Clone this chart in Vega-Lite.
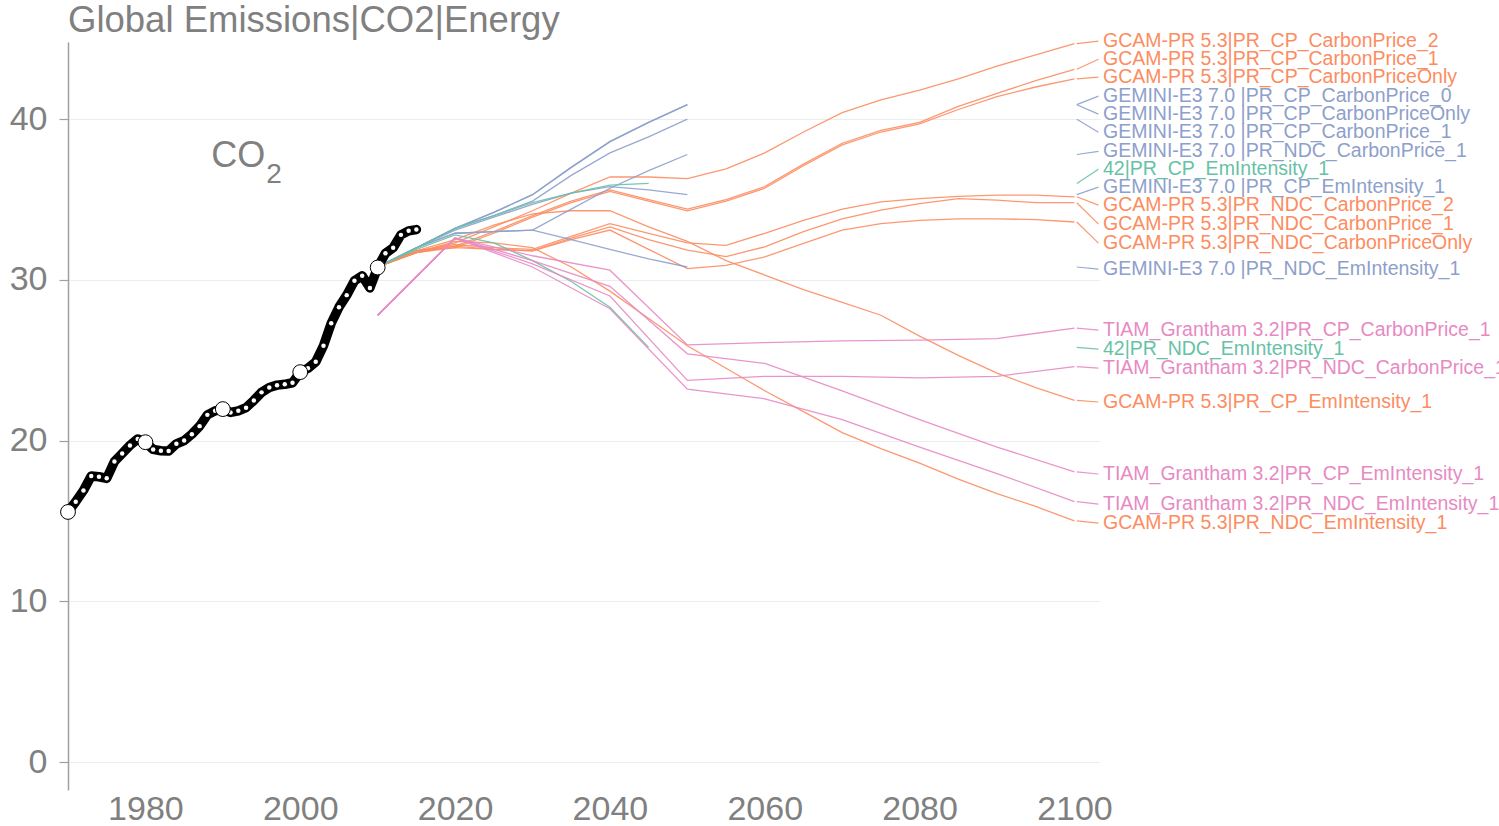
{
  "$schema": "https://vega.github.io/schema/vega-lite/v6.json",
  "autosize": "none",
  "width": 1032,
  "height": 748,
  "padding": {"left": 68, "top": 42, "right": 399, "bottom": 36},
  "background": "white",
  "title": {"text": "Global Emissions|CO2|Energy", "anchor": "start", "frame": "group", "fontSize": 36.5, "font": "Liberation Sans", "fontWeight": "normal", "color": "#808080", "offset": -8},
  "config": {
    "view": {"stroke": null},
    "axis": {"labelFont": "Liberation Sans", "labelFontSize": 34, "labelColor": "#808080", "title": null}
  },
  "datasets": {
    "history": [
      {"year": 1970, "value": 15.56}, {"year": 1971, "value": 16.2}, {"year": 1972, "value": 16.9}, {"year": 1973, "value": 17.8}, {"year": 1974, "value": 17.75},
      {"year": 1975, "value": 17.65}, {"year": 1976, "value": 18.7}, {"year": 1977, "value": 19.2}, {"year": 1978, "value": 19.7}, {"year": 1979, "value": 20.1},
      {"year": 1980, "value": 19.9}, {"year": 1981, "value": 19.45}, {"year": 1982, "value": 19.37}, {"year": 1983, "value": 19.35}, {"year": 1984, "value": 19.8},
      {"year": 1985, "value": 20.0}, {"year": 1986, "value": 20.4}, {"year": 1987, "value": 20.9}, {"year": 1988, "value": 21.6}, {"year": 1989, "value": 21.85},
      {"year": 1990, "value": 21.96}, {"year": 1991, "value": 21.75}, {"year": 1992, "value": 21.85}, {"year": 1993, "value": 22.05}, {"year": 1994, "value": 22.5},
      {"year": 1995, "value": 23.0}, {"year": 1996, "value": 23.3}, {"year": 1997, "value": 23.45}, {"year": 1998, "value": 23.5}, {"year": 1999, "value": 23.6},
      {"year": 2000, "value": 24.26}, {"year": 2001, "value": 24.5}, {"year": 2002, "value": 24.9}, {"year": 2003, "value": 25.9}, {"year": 2004, "value": 27.3},
      {"year": 2005, "value": 28.3}, {"year": 2006, "value": 29.05}, {"year": 2007, "value": 29.95}, {"year": 2008, "value": 30.25}, {"year": 2009, "value": 29.5},
      {"year": 2010, "value": 30.77}, {"year": 2011, "value": 31.65}, {"year": 2012, "value": 32.0}, {"year": 2013, "value": 32.8}, {"year": 2014, "value": 33.05},
      {"year": 2015, "value": 33.13}
    ],
    "scenarios": [
      {"model": "GCAM-PR 5.3", "scenario": "PR_CP_CarbonPrice_2", "year": 2010, "value": 30.8},
      {"model": "GCAM-PR 5.3", "scenario": "PR_CP_CarbonPrice_2", "year": 2015, "value": 31.7},
      {"model": "GCAM-PR 5.3", "scenario": "PR_CP_CarbonPrice_2", "year": 2020, "value": 32.3},
      {"model": "GCAM-PR 5.3", "scenario": "PR_CP_CarbonPrice_2", "year": 2025, "value": 33.3},
      {"model": "GCAM-PR 5.3", "scenario": "PR_CP_CarbonPrice_2", "year": 2030, "value": 34.3},
      {"model": "GCAM-PR 5.3", "scenario": "PR_CP_CarbonPrice_2", "year": 2035, "value": 35.4},
      {"model": "GCAM-PR 5.3", "scenario": "PR_CP_CarbonPrice_2", "year": 2040, "value": 36.4},
      {"model": "GCAM-PR 5.3", "scenario": "PR_CP_CarbonPrice_2", "year": 2045, "value": 36.4},
      {"model": "GCAM-PR 5.3", "scenario": "PR_CP_CarbonPrice_2", "year": 2050, "value": 36.3},
      {"model": "GCAM-PR 5.3", "scenario": "PR_CP_CarbonPrice_2", "year": 2055, "value": 36.9},
      {"model": "GCAM-PR 5.3", "scenario": "PR_CP_CarbonPrice_2", "year": 2060, "value": 37.9},
      {"model": "GCAM-PR 5.3", "scenario": "PR_CP_CarbonPrice_2", "year": 2065, "value": 39.2},
      {"model": "GCAM-PR 5.3", "scenario": "PR_CP_CarbonPrice_2", "year": 2070, "value": 40.4},
      {"model": "GCAM-PR 5.3", "scenario": "PR_CP_CarbonPrice_2", "year": 2075, "value": 41.2},
      {"model": "GCAM-PR 5.3", "scenario": "PR_CP_CarbonPrice_2", "year": 2080, "value": 41.8},
      {"model": "GCAM-PR 5.3", "scenario": "PR_CP_CarbonPrice_2", "year": 2085, "value": 42.5},
      {"model": "GCAM-PR 5.3", "scenario": "PR_CP_CarbonPrice_2", "year": 2090, "value": 43.3},
      {"model": "GCAM-PR 5.3", "scenario": "PR_CP_CarbonPrice_2", "year": 2095, "value": 44.0},
      {"model": "GCAM-PR 5.3", "scenario": "PR_CP_CarbonPrice_2", "year": 2100, "value": 44.7},

      {"model": "GCAM-PR 5.3", "scenario": "PR_CP_CarbonPrice_1", "year": 2010, "value": 30.8},
      {"model": "GCAM-PR 5.3", "scenario": "PR_CP_CarbonPrice_1", "year": 2015, "value": 31.7},
      {"model": "GCAM-PR 5.3", "scenario": "PR_CP_CarbonPrice_1", "year": 2020, "value": 32.1},
      {"model": "GCAM-PR 5.3", "scenario": "PR_CP_CarbonPrice_1", "year": 2025, "value": 33.0},
      {"model": "GCAM-PR 5.3", "scenario": "PR_CP_CarbonPrice_1", "year": 2030, "value": 34.0},
      {"model": "GCAM-PR 5.3", "scenario": "PR_CP_CarbonPrice_1", "year": 2035, "value": 34.9},
      {"model": "GCAM-PR 5.3", "scenario": "PR_CP_CarbonPrice_1", "year": 2040, "value": 35.6},
      {"model": "GCAM-PR 5.3", "scenario": "PR_CP_CarbonPrice_1", "year": 2045, "value": 35.0},
      {"model": "GCAM-PR 5.3", "scenario": "PR_CP_CarbonPrice_1", "year": 2050, "value": 34.4},
      {"model": "GCAM-PR 5.3", "scenario": "PR_CP_CarbonPrice_1", "year": 2055, "value": 35.0},
      {"model": "GCAM-PR 5.3", "scenario": "PR_CP_CarbonPrice_1", "year": 2060, "value": 35.8},
      {"model": "GCAM-PR 5.3", "scenario": "PR_CP_CarbonPrice_1", "year": 2065, "value": 37.2},
      {"model": "GCAM-PR 5.3", "scenario": "PR_CP_CarbonPrice_1", "year": 2070, "value": 38.5},
      {"model": "GCAM-PR 5.3", "scenario": "PR_CP_CarbonPrice_1", "year": 2075, "value": 39.3},
      {"model": "GCAM-PR 5.3", "scenario": "PR_CP_CarbonPrice_1", "year": 2080, "value": 39.8},
      {"model": "GCAM-PR 5.3", "scenario": "PR_CP_CarbonPrice_1", "year": 2085, "value": 40.8},
      {"model": "GCAM-PR 5.3", "scenario": "PR_CP_CarbonPrice_1", "year": 2090, "value": 41.6},
      {"model": "GCAM-PR 5.3", "scenario": "PR_CP_CarbonPrice_1", "year": 2095, "value": 42.4},
      {"model": "GCAM-PR 5.3", "scenario": "PR_CP_CarbonPrice_1", "year": 2100, "value": 43.1},

      {"model": "GCAM-PR 5.3", "scenario": "PR_CP_CarbonPriceOnly", "year": 2010, "value": 30.8},
      {"model": "GCAM-PR 5.3", "scenario": "PR_CP_CarbonPriceOnly", "year": 2015, "value": 31.7},
      {"model": "GCAM-PR 5.3", "scenario": "PR_CP_CarbonPriceOnly", "year": 2020, "value": 32.0},
      {"model": "GCAM-PR 5.3", "scenario": "PR_CP_CarbonPriceOnly", "year": 2025, "value": 32.9},
      {"model": "GCAM-PR 5.3", "scenario": "PR_CP_CarbonPriceOnly", "year": 2030, "value": 33.9},
      {"model": "GCAM-PR 5.3", "scenario": "PR_CP_CarbonPriceOnly", "year": 2035, "value": 34.8},
      {"model": "GCAM-PR 5.3", "scenario": "PR_CP_CarbonPriceOnly", "year": 2040, "value": 35.5},
      {"model": "GCAM-PR 5.3", "scenario": "PR_CP_CarbonPriceOnly", "year": 2045, "value": 34.9},
      {"model": "GCAM-PR 5.3", "scenario": "PR_CP_CarbonPriceOnly", "year": 2050, "value": 34.3},
      {"model": "GCAM-PR 5.3", "scenario": "PR_CP_CarbonPriceOnly", "year": 2055, "value": 34.9},
      {"model": "GCAM-PR 5.3", "scenario": "PR_CP_CarbonPriceOnly", "year": 2060, "value": 35.7},
      {"model": "GCAM-PR 5.3", "scenario": "PR_CP_CarbonPriceOnly", "year": 2065, "value": 37.1},
      {"model": "GCAM-PR 5.3", "scenario": "PR_CP_CarbonPriceOnly", "year": 2070, "value": 38.4},
      {"model": "GCAM-PR 5.3", "scenario": "PR_CP_CarbonPriceOnly", "year": 2075, "value": 39.2},
      {"model": "GCAM-PR 5.3", "scenario": "PR_CP_CarbonPriceOnly", "year": 2080, "value": 39.7},
      {"model": "GCAM-PR 5.3", "scenario": "PR_CP_CarbonPriceOnly", "year": 2085, "value": 40.6},
      {"model": "GCAM-PR 5.3", "scenario": "PR_CP_CarbonPriceOnly", "year": 2090, "value": 41.4},
      {"model": "GCAM-PR 5.3", "scenario": "PR_CP_CarbonPriceOnly", "year": 2095, "value": 42.0},
      {"model": "GCAM-PR 5.3", "scenario": "PR_CP_CarbonPriceOnly", "year": 2100, "value": 42.5},

      {"model": "GCAM-PR 5.3", "scenario": "PR_CP_EmIntensity_1", "year": 2010, "value": 30.8},
      {"model": "GCAM-PR 5.3", "scenario": "PR_CP_EmIntensity_1", "year": 2015, "value": 31.8},
      {"model": "GCAM-PR 5.3", "scenario": "PR_CP_EmIntensity_1", "year": 2020, "value": 32.5},
      {"model": "GCAM-PR 5.3", "scenario": "PR_CP_EmIntensity_1", "year": 2025, "value": 33.4},
      {"model": "GCAM-PR 5.3", "scenario": "PR_CP_EmIntensity_1", "year": 2030, "value": 34.1},
      {"model": "GCAM-PR 5.3", "scenario": "PR_CP_EmIntensity_1", "year": 2035, "value": 34.3},
      {"model": "GCAM-PR 5.3", "scenario": "PR_CP_EmIntensity_1", "year": 2040, "value": 34.3},
      {"model": "GCAM-PR 5.3", "scenario": "PR_CP_EmIntensity_1", "year": 2045, "value": 33.3},
      {"model": "GCAM-PR 5.3", "scenario": "PR_CP_EmIntensity_1", "year": 2050, "value": 32.4},
      {"model": "GCAM-PR 5.3", "scenario": "PR_CP_EmIntensity_1", "year": 2055, "value": 31.2},
      {"model": "GCAM-PR 5.3", "scenario": "PR_CP_EmIntensity_1", "year": 2060, "value": 30.3},
      {"model": "GCAM-PR 5.3", "scenario": "PR_CP_EmIntensity_1", "year": 2065, "value": 29.4},
      {"model": "GCAM-PR 5.3", "scenario": "PR_CP_EmIntensity_1", "year": 2070, "value": 28.6},
      {"model": "GCAM-PR 5.3", "scenario": "PR_CP_EmIntensity_1", "year": 2075, "value": 27.8},
      {"model": "GCAM-PR 5.3", "scenario": "PR_CP_EmIntensity_1", "year": 2080, "value": 26.5},
      {"model": "GCAM-PR 5.3", "scenario": "PR_CP_EmIntensity_1", "year": 2085, "value": 25.3},
      {"model": "GCAM-PR 5.3", "scenario": "PR_CP_EmIntensity_1", "year": 2090, "value": 24.2},
      {"model": "GCAM-PR 5.3", "scenario": "PR_CP_EmIntensity_1", "year": 2095, "value": 23.3},
      {"model": "GCAM-PR 5.3", "scenario": "PR_CP_EmIntensity_1", "year": 2100, "value": 22.5},

      {"model": "GCAM-PR 5.3", "scenario": "PR_NDC_CarbonPrice_2", "year": 2010, "value": 30.8},
      {"model": "GCAM-PR 5.3", "scenario": "PR_NDC_CarbonPrice_2", "year": 2015, "value": 31.8},
      {"model": "GCAM-PR 5.3", "scenario": "PR_NDC_CarbonPrice_2", "year": 2020, "value": 32.2},
      {"model": "GCAM-PR 5.3", "scenario": "PR_NDC_CarbonPrice_2", "year": 2025, "value": 32.0},
      {"model": "GCAM-PR 5.3", "scenario": "PR_NDC_CarbonPrice_2", "year": 2030, "value": 31.9},
      {"model": "GCAM-PR 5.3", "scenario": "PR_NDC_CarbonPrice_2", "year": 2035, "value": 32.7},
      {"model": "GCAM-PR 5.3", "scenario": "PR_NDC_CarbonPrice_2", "year": 2040, "value": 33.5},
      {"model": "GCAM-PR 5.3", "scenario": "PR_NDC_CarbonPrice_2", "year": 2045, "value": 32.9},
      {"model": "GCAM-PR 5.3", "scenario": "PR_NDC_CarbonPrice_2", "year": 2050, "value": 32.3},
      {"model": "GCAM-PR 5.3", "scenario": "PR_NDC_CarbonPrice_2", "year": 2055, "value": 32.15},
      {"model": "GCAM-PR 5.3", "scenario": "PR_NDC_CarbonPrice_2", "year": 2060, "value": 32.9},
      {"model": "GCAM-PR 5.3", "scenario": "PR_NDC_CarbonPrice_2", "year": 2065, "value": 33.7},
      {"model": "GCAM-PR 5.3", "scenario": "PR_NDC_CarbonPrice_2", "year": 2070, "value": 34.4},
      {"model": "GCAM-PR 5.3", "scenario": "PR_NDC_CarbonPrice_2", "year": 2075, "value": 34.85},
      {"model": "GCAM-PR 5.3", "scenario": "PR_NDC_CarbonPrice_2", "year": 2080, "value": 35.05},
      {"model": "GCAM-PR 5.3", "scenario": "PR_NDC_CarbonPrice_2", "year": 2085, "value": 35.2},
      {"model": "GCAM-PR 5.3", "scenario": "PR_NDC_CarbonPrice_2", "year": 2090, "value": 35.27},
      {"model": "GCAM-PR 5.3", "scenario": "PR_NDC_CarbonPrice_2", "year": 2095, "value": 35.27},
      {"model": "GCAM-PR 5.3", "scenario": "PR_NDC_CarbonPrice_2", "year": 2100, "value": 35.17},

      {"model": "GCAM-PR 5.3", "scenario": "PR_NDC_CarbonPrice_1", "year": 2010, "value": 30.8},
      {"model": "GCAM-PR 5.3", "scenario": "PR_NDC_CarbonPrice_1", "year": 2015, "value": 31.8},
      {"model": "GCAM-PR 5.3", "scenario": "PR_NDC_CarbonPrice_1", "year": 2020, "value": 32.1},
      {"model": "GCAM-PR 5.3", "scenario": "PR_NDC_CarbonPrice_1", "year": 2025, "value": 31.9},
      {"model": "GCAM-PR 5.3", "scenario": "PR_NDC_CarbonPrice_1", "year": 2030, "value": 31.8},
      {"model": "GCAM-PR 5.3", "scenario": "PR_NDC_CarbonPrice_1", "year": 2035, "value": 32.6},
      {"model": "GCAM-PR 5.3", "scenario": "PR_NDC_CarbonPrice_1", "year": 2040, "value": 33.3},
      {"model": "GCAM-PR 5.3", "scenario": "PR_NDC_CarbonPrice_1", "year": 2045, "value": 32.5},
      {"model": "GCAM-PR 5.3", "scenario": "PR_NDC_CarbonPrice_1", "year": 2050, "value": 31.85},
      {"model": "GCAM-PR 5.3", "scenario": "PR_NDC_CarbonPrice_1", "year": 2055, "value": 31.45},
      {"model": "GCAM-PR 5.3", "scenario": "PR_NDC_CarbonPrice_1", "year": 2060, "value": 32.06},
      {"model": "GCAM-PR 5.3", "scenario": "PR_NDC_CarbonPrice_1", "year": 2065, "value": 33.0},
      {"model": "GCAM-PR 5.3", "scenario": "PR_NDC_CarbonPrice_1", "year": 2070, "value": 33.8},
      {"model": "GCAM-PR 5.3", "scenario": "PR_NDC_CarbonPrice_1", "year": 2075, "value": 34.34},
      {"model": "GCAM-PR 5.3", "scenario": "PR_NDC_CarbonPrice_1", "year": 2080, "value": 34.75},
      {"model": "GCAM-PR 5.3", "scenario": "PR_NDC_CarbonPrice_1", "year": 2085, "value": 35.06},
      {"model": "GCAM-PR 5.3", "scenario": "PR_NDC_CarbonPrice_1", "year": 2090, "value": 34.96},
      {"model": "GCAM-PR 5.3", "scenario": "PR_NDC_CarbonPrice_1", "year": 2095, "value": 34.8},
      {"model": "GCAM-PR 5.3", "scenario": "PR_NDC_CarbonPrice_1", "year": 2100, "value": 34.8},

      {"model": "GCAM-PR 5.3", "scenario": "PR_NDC_CarbonPriceOnly", "year": 2010, "value": 30.8},
      {"model": "GCAM-PR 5.3", "scenario": "PR_NDC_CarbonPriceOnly", "year": 2015, "value": 31.8},
      {"model": "GCAM-PR 5.3", "scenario": "PR_NDC_CarbonPriceOnly", "year": 2020, "value": 32.0},
      {"model": "GCAM-PR 5.3", "scenario": "PR_NDC_CarbonPriceOnly", "year": 2025, "value": 31.9},
      {"model": "GCAM-PR 5.3", "scenario": "PR_NDC_CarbonPriceOnly", "year": 2030, "value": 31.8},
      {"model": "GCAM-PR 5.3", "scenario": "PR_NDC_CarbonPriceOnly", "year": 2035, "value": 32.5},
      {"model": "GCAM-PR 5.3", "scenario": "PR_NDC_CarbonPriceOnly", "year": 2040, "value": 33.1},
      {"model": "GCAM-PR 5.3", "scenario": "PR_NDC_CarbonPriceOnly", "year": 2045, "value": 31.9},
      {"model": "GCAM-PR 5.3", "scenario": "PR_NDC_CarbonPriceOnly", "year": 2050, "value": 30.7},
      {"model": "GCAM-PR 5.3", "scenario": "PR_NDC_CarbonPriceOnly", "year": 2055, "value": 30.9},
      {"model": "GCAM-PR 5.3", "scenario": "PR_NDC_CarbonPriceOnly", "year": 2060, "value": 31.43},
      {"model": "GCAM-PR 5.3", "scenario": "PR_NDC_CarbonPriceOnly", "year": 2065, "value": 32.27},
      {"model": "GCAM-PR 5.3", "scenario": "PR_NDC_CarbonPriceOnly", "year": 2070, "value": 33.1},
      {"model": "GCAM-PR 5.3", "scenario": "PR_NDC_CarbonPriceOnly", "year": 2075, "value": 33.5},
      {"model": "GCAM-PR 5.3", "scenario": "PR_NDC_CarbonPriceOnly", "year": 2080, "value": 33.7},
      {"model": "GCAM-PR 5.3", "scenario": "PR_NDC_CarbonPriceOnly", "year": 2085, "value": 33.8},
      {"model": "GCAM-PR 5.3", "scenario": "PR_NDC_CarbonPriceOnly", "year": 2090, "value": 33.8},
      {"model": "GCAM-PR 5.3", "scenario": "PR_NDC_CarbonPriceOnly", "year": 2095, "value": 33.75},
      {"model": "GCAM-PR 5.3", "scenario": "PR_NDC_CarbonPriceOnly", "year": 2100, "value": 33.6},

      {"model": "GCAM-PR 5.3", "scenario": "PR_NDC_EmIntensity_1", "year": 2010, "value": 30.8},
      {"model": "GCAM-PR 5.3", "scenario": "PR_NDC_EmIntensity_1", "year": 2015, "value": 31.7},
      {"model": "GCAM-PR 5.3", "scenario": "PR_NDC_EmIntensity_1", "year": 2020, "value": 32.4},
      {"model": "GCAM-PR 5.3", "scenario": "PR_NDC_EmIntensity_1", "year": 2025, "value": 32.3},
      {"model": "GCAM-PR 5.3", "scenario": "PR_NDC_EmIntensity_1", "year": 2030, "value": 32.0},
      {"model": "GCAM-PR 5.3", "scenario": "PR_NDC_EmIntensity_1", "year": 2035, "value": 30.8},
      {"model": "GCAM-PR 5.3", "scenario": "PR_NDC_EmIntensity_1", "year": 2040, "value": 29.3},
      {"model": "GCAM-PR 5.3", "scenario": "PR_NDC_EmIntensity_1", "year": 2045, "value": 27.6},
      {"model": "GCAM-PR 5.3", "scenario": "PR_NDC_EmIntensity_1", "year": 2050, "value": 25.9},
      {"model": "GCAM-PR 5.3", "scenario": "PR_NDC_EmIntensity_1", "year": 2055, "value": 24.5},
      {"model": "GCAM-PR 5.3", "scenario": "PR_NDC_EmIntensity_1", "year": 2060, "value": 23.1},
      {"model": "GCAM-PR 5.3", "scenario": "PR_NDC_EmIntensity_1", "year": 2065, "value": 21.8},
      {"model": "GCAM-PR 5.3", "scenario": "PR_NDC_EmIntensity_1", "year": 2070, "value": 20.5},
      {"model": "GCAM-PR 5.3", "scenario": "PR_NDC_EmIntensity_1", "year": 2075, "value": 19.5},
      {"model": "GCAM-PR 5.3", "scenario": "PR_NDC_EmIntensity_1", "year": 2080, "value": 18.6},
      {"model": "GCAM-PR 5.3", "scenario": "PR_NDC_EmIntensity_1", "year": 2085, "value": 17.6},
      {"model": "GCAM-PR 5.3", "scenario": "PR_NDC_EmIntensity_1", "year": 2090, "value": 16.7},
      {"model": "GCAM-PR 5.3", "scenario": "PR_NDC_EmIntensity_1", "year": 2095, "value": 15.9},
      {"model": "GCAM-PR 5.3", "scenario": "PR_NDC_EmIntensity_1", "year": 2100, "value": 15.0},

      {"model": "GEMINI-E3 7.0 ", "scenario": "PR_CP_CarbonPrice_0", "year": 2010, "value": 30.8},
      {"model": "GEMINI-E3 7.0 ", "scenario": "PR_CP_CarbonPrice_0", "year": 2015, "value": 32.0},
      {"model": "GEMINI-E3 7.0 ", "scenario": "PR_CP_CarbonPrice_0", "year": 2020, "value": 33.2},
      {"model": "GEMINI-E3 7.0 ", "scenario": "PR_CP_CarbonPrice_0", "year": 2025, "value": 34.2},
      {"model": "GEMINI-E3 7.0 ", "scenario": "PR_CP_CarbonPrice_0", "year": 2030, "value": 35.3},
      {"model": "GEMINI-E3 7.0 ", "scenario": "PR_CP_CarbonPrice_0", "year": 2035, "value": 37.0},
      {"model": "GEMINI-E3 7.0 ", "scenario": "PR_CP_CarbonPrice_0", "year": 2040, "value": 38.6},
      {"model": "GEMINI-E3 7.0 ", "scenario": "PR_CP_CarbonPrice_0", "year": 2045, "value": 39.8},
      {"model": "GEMINI-E3 7.0 ", "scenario": "PR_CP_CarbonPrice_0", "year": 2050, "value": 40.9},

      {"model": "GEMINI-E3 7.0 ", "scenario": "PR_CP_CarbonPriceOnly", "year": 2010, "value": 30.8},
      {"model": "GEMINI-E3 7.0 ", "scenario": "PR_CP_CarbonPriceOnly", "year": 2015, "value": 32.0},
      {"model": "GEMINI-E3 7.0 ", "scenario": "PR_CP_CarbonPriceOnly", "year": 2020, "value": 33.2},
      {"model": "GEMINI-E3 7.0 ", "scenario": "PR_CP_CarbonPriceOnly", "year": 2025, "value": 34.2},
      {"model": "GEMINI-E3 7.0 ", "scenario": "PR_CP_CarbonPriceOnly", "year": 2030, "value": 35.3},
      {"model": "GEMINI-E3 7.0 ", "scenario": "PR_CP_CarbonPriceOnly", "year": 2035, "value": 37.0},
      {"model": "GEMINI-E3 7.0 ", "scenario": "PR_CP_CarbonPriceOnly", "year": 2040, "value": 38.6},
      {"model": "GEMINI-E3 7.0 ", "scenario": "PR_CP_CarbonPriceOnly", "year": 2045, "value": 39.8},
      {"model": "GEMINI-E3 7.0 ", "scenario": "PR_CP_CarbonPriceOnly", "year": 2050, "value": 40.9},

      {"model": "GEMINI-E3 7.0 ", "scenario": "PR_CP_CarbonPrice_1", "year": 2010, "value": 30.8},
      {"model": "GEMINI-E3 7.0 ", "scenario": "PR_CP_CarbonPrice_1", "year": 2015, "value": 32.0},
      {"model": "GEMINI-E3 7.0 ", "scenario": "PR_CP_CarbonPrice_1", "year": 2020, "value": 33.2},
      {"model": "GEMINI-E3 7.0 ", "scenario": "PR_CP_CarbonPrice_1", "year": 2025, "value": 34.0},
      {"model": "GEMINI-E3 7.0 ", "scenario": "PR_CP_CarbonPrice_1", "year": 2030, "value": 34.9},
      {"model": "GEMINI-E3 7.0 ", "scenario": "PR_CP_CarbonPrice_1", "year": 2035, "value": 36.5},
      {"model": "GEMINI-E3 7.0 ", "scenario": "PR_CP_CarbonPrice_1", "year": 2040, "value": 37.9},
      {"model": "GEMINI-E3 7.0 ", "scenario": "PR_CP_CarbonPrice_1", "year": 2045, "value": 38.9},
      {"model": "GEMINI-E3 7.0 ", "scenario": "PR_CP_CarbonPrice_1", "year": 2050, "value": 40.0},

      {"model": "GEMINI-E3 7.0 ", "scenario": "PR_NDC_CarbonPrice_1", "year": 2010, "value": 30.8},
      {"model": "GEMINI-E3 7.0 ", "scenario": "PR_NDC_CarbonPrice_1", "year": 2015, "value": 32.0},
      {"model": "GEMINI-E3 7.0 ", "scenario": "PR_NDC_CarbonPrice_1", "year": 2020, "value": 32.9},
      {"model": "GEMINI-E3 7.0 ", "scenario": "PR_NDC_CarbonPrice_1", "year": 2025, "value": 33.0},
      {"model": "GEMINI-E3 7.0 ", "scenario": "PR_NDC_CarbonPrice_1", "year": 2030, "value": 33.1},
      {"model": "GEMINI-E3 7.0 ", "scenario": "PR_NDC_CarbonPrice_1", "year": 2035, "value": 34.4},
      {"model": "GEMINI-E3 7.0 ", "scenario": "PR_NDC_CarbonPrice_1", "year": 2040, "value": 35.7},
      {"model": "GEMINI-E3 7.0 ", "scenario": "PR_NDC_CarbonPrice_1", "year": 2045, "value": 36.8},
      {"model": "GEMINI-E3 7.0 ", "scenario": "PR_NDC_CarbonPrice_1", "year": 2050, "value": 37.8},

      {"model": "GEMINI-E3 7.0 ", "scenario": "PR_CP_EmIntensity_1", "year": 2010, "value": 30.8},
      {"model": "GEMINI-E3 7.0 ", "scenario": "PR_CP_EmIntensity_1", "year": 2015, "value": 32.0},
      {"model": "GEMINI-E3 7.0 ", "scenario": "PR_CP_EmIntensity_1", "year": 2020, "value": 33.1},
      {"model": "GEMINI-E3 7.0 ", "scenario": "PR_CP_EmIntensity_1", "year": 2025, "value": 33.9},
      {"model": "GEMINI-E3 7.0 ", "scenario": "PR_CP_EmIntensity_1", "year": 2030, "value": 34.7},
      {"model": "GEMINI-E3 7.0 ", "scenario": "PR_CP_EmIntensity_1", "year": 2035, "value": 35.4},
      {"model": "GEMINI-E3 7.0 ", "scenario": "PR_CP_EmIntensity_1", "year": 2040, "value": 35.8},
      {"model": "GEMINI-E3 7.0 ", "scenario": "PR_CP_EmIntensity_1", "year": 2045, "value": 35.6},
      {"model": "GEMINI-E3 7.0 ", "scenario": "PR_CP_EmIntensity_1", "year": 2050, "value": 35.3},

      {"model": "GEMINI-E3 7.0 ", "scenario": "PR_NDC_EmIntensity_1", "year": 2010, "value": 30.8},
      {"model": "GEMINI-E3 7.0 ", "scenario": "PR_NDC_EmIntensity_1", "year": 2015, "value": 32.0},
      {"model": "GEMINI-E3 7.0 ", "scenario": "PR_NDC_EmIntensity_1", "year": 2020, "value": 32.9},
      {"model": "GEMINI-E3 7.0 ", "scenario": "PR_NDC_EmIntensity_1", "year": 2025, "value": 33.0},
      {"model": "GEMINI-E3 7.0 ", "scenario": "PR_NDC_EmIntensity_1", "year": 2030, "value": 33.1},
      {"model": "GEMINI-E3 7.0 ", "scenario": "PR_NDC_EmIntensity_1", "year": 2035, "value": 32.5},
      {"model": "GEMINI-E3 7.0 ", "scenario": "PR_NDC_EmIntensity_1", "year": 2040, "value": 31.9},
      {"model": "GEMINI-E3 7.0 ", "scenario": "PR_NDC_EmIntensity_1", "year": 2045, "value": 31.3},
      {"model": "GEMINI-E3 7.0 ", "scenario": "PR_NDC_EmIntensity_1", "year": 2050, "value": 30.8},

      {"model": "42", "scenario": "PR_CP_EmIntensity_1", "year": 2010, "value": 30.8},
      {"model": "42", "scenario": "PR_CP_EmIntensity_1", "year": 2015, "value": 32.0},
      {"model": "42", "scenario": "PR_CP_EmIntensity_1", "year": 2020, "value": 33.2},
      {"model": "42", "scenario": "PR_CP_EmIntensity_1", "year": 2025, "value": 34.0},
      {"model": "42", "scenario": "PR_CP_EmIntensity_1", "year": 2030, "value": 34.8},
      {"model": "42", "scenario": "PR_CP_EmIntensity_1", "year": 2035, "value": 35.4},
      {"model": "42", "scenario": "PR_CP_EmIntensity_1", "year": 2040, "value": 35.9},
      {"model": "42", "scenario": "PR_CP_EmIntensity_1", "year": 2045, "value": 36.0},

      {"model": "42", "scenario": "PR_NDC_EmIntensity_1", "year": 2010, "value": 30.8},
      {"model": "42", "scenario": "PR_NDC_EmIntensity_1", "year": 2015, "value": 31.9},
      {"model": "42", "scenario": "PR_NDC_EmIntensity_1", "year": 2020, "value": 32.8},
      {"model": "42", "scenario": "PR_NDC_EmIntensity_1", "year": 2025, "value": 32.3},
      {"model": "42", "scenario": "PR_NDC_EmIntensity_1", "year": 2030, "value": 31.2},
      {"model": "42", "scenario": "PR_NDC_EmIntensity_1", "year": 2035, "value": 29.9},
      {"model": "42", "scenario": "PR_NDC_EmIntensity_1", "year": 2040, "value": 28.3},
      {"model": "42", "scenario": "PR_NDC_EmIntensity_1", "year": 2045, "value": 25.8},

      {"model": "TIAM_Grantham 3.2", "scenario": "PR_CP_CarbonPrice_1", "year": 2010, "value": 27.8},
      {"model": "TIAM_Grantham 3.2", "scenario": "PR_CP_CarbonPrice_1", "year": 2020, "value": 32.6},
      {"model": "TIAM_Grantham 3.2", "scenario": "PR_CP_CarbonPrice_1", "year": 2030, "value": 31.5},
      {"model": "TIAM_Grantham 3.2", "scenario": "PR_CP_CarbonPrice_1", "year": 2040, "value": 30.6},
      {"model": "TIAM_Grantham 3.2", "scenario": "PR_CP_CarbonPrice_1", "year": 2050, "value": 25.95},
      {"model": "TIAM_Grantham 3.2", "scenario": "PR_CP_CarbonPrice_1", "year": 2060, "value": 26.1},
      {"model": "TIAM_Grantham 3.2", "scenario": "PR_CP_CarbonPrice_1", "year": 2070, "value": 26.2},
      {"model": "TIAM_Grantham 3.2", "scenario": "PR_CP_CarbonPrice_1", "year": 2080, "value": 26.25},
      {"model": "TIAM_Grantham 3.2", "scenario": "PR_CP_CarbonPrice_1", "year": 2090, "value": 26.35},
      {"model": "TIAM_Grantham 3.2", "scenario": "PR_CP_CarbonPrice_1", "year": 2100, "value": 27.0},

      {"model": "TIAM_Grantham 3.2", "scenario": "PR_CP_EmIntensity_1", "year": 2010, "value": 27.8},
      {"model": "TIAM_Grantham 3.2", "scenario": "PR_CP_EmIntensity_1", "year": 2020, "value": 32.6},
      {"model": "TIAM_Grantham 3.2", "scenario": "PR_CP_EmIntensity_1", "year": 2030, "value": 31.2},
      {"model": "TIAM_Grantham 3.2", "scenario": "PR_CP_EmIntensity_1", "year": 2040, "value": 29.6},
      {"model": "TIAM_Grantham 3.2", "scenario": "PR_CP_EmIntensity_1", "year": 2050, "value": 25.4},
      {"model": "TIAM_Grantham 3.2", "scenario": "PR_CP_EmIntensity_1", "year": 2060, "value": 24.8},
      {"model": "TIAM_Grantham 3.2", "scenario": "PR_CP_EmIntensity_1", "year": 2070, "value": 23.1},
      {"model": "TIAM_Grantham 3.2", "scenario": "PR_CP_EmIntensity_1", "year": 2080, "value": 21.3},
      {"model": "TIAM_Grantham 3.2", "scenario": "PR_CP_EmIntensity_1", "year": 2090, "value": 19.6},
      {"model": "TIAM_Grantham 3.2", "scenario": "PR_CP_EmIntensity_1", "year": 2100, "value": 18.05},

      {"model": "TIAM_Grantham 3.2", "scenario": "PR_NDC_CarbonPrice_1", "year": 2010, "value": 27.8},
      {"model": "TIAM_Grantham 3.2", "scenario": "PR_NDC_CarbonPrice_1", "year": 2020, "value": 32.6},
      {"model": "TIAM_Grantham 3.2", "scenario": "PR_NDC_CarbonPrice_1", "year": 2030, "value": 31.0},
      {"model": "TIAM_Grantham 3.2", "scenario": "PR_NDC_CarbonPrice_1", "year": 2040, "value": 29.0},
      {"model": "TIAM_Grantham 3.2", "scenario": "PR_NDC_CarbonPrice_1", "year": 2050, "value": 23.75},
      {"model": "TIAM_Grantham 3.2", "scenario": "PR_NDC_CarbonPrice_1", "year": 2060, "value": 24.0},
      {"model": "TIAM_Grantham 3.2", "scenario": "PR_NDC_CarbonPrice_1", "year": 2070, "value": 24.0},
      {"model": "TIAM_Grantham 3.2", "scenario": "PR_NDC_CarbonPrice_1", "year": 2080, "value": 23.9},
      {"model": "TIAM_Grantham 3.2", "scenario": "PR_NDC_CarbonPrice_1", "year": 2090, "value": 24.0},
      {"model": "TIAM_Grantham 3.2", "scenario": "PR_NDC_CarbonPrice_1", "year": 2100, "value": 24.6},

      {"model": "TIAM_Grantham 3.2", "scenario": "PR_NDC_EmIntensity_1", "year": 2010, "value": 27.8},
      {"model": "TIAM_Grantham 3.2", "scenario": "PR_NDC_EmIntensity_1", "year": 2020, "value": 32.6},
      {"model": "TIAM_Grantham 3.2", "scenario": "PR_NDC_EmIntensity_1", "year": 2030, "value": 30.8},
      {"model": "TIAM_Grantham 3.2", "scenario": "PR_NDC_EmIntensity_1", "year": 2040, "value": 28.2},
      {"model": "TIAM_Grantham 3.2", "scenario": "PR_NDC_EmIntensity_1", "year": 2050, "value": 23.2},
      {"model": "TIAM_Grantham 3.2", "scenario": "PR_NDC_EmIntensity_1", "year": 2060, "value": 22.6},
      {"model": "TIAM_Grantham 3.2", "scenario": "PR_NDC_EmIntensity_1", "year": 2070, "value": 21.3},
      {"model": "TIAM_Grantham 3.2", "scenario": "PR_NDC_EmIntensity_1", "year": 2080, "value": 19.6},
      {"model": "TIAM_Grantham 3.2", "scenario": "PR_NDC_EmIntensity_1", "year": 2090, "value": 17.95},
      {"model": "TIAM_Grantham 3.2", "scenario": "PR_NDC_EmIntensity_1", "year": 2100, "value": 16.2}
    ],
    "labels": [
      {"model": "GCAM-PR 5.3", "label": "GCAM-PR 5.3|PR_CP_CarbonPrice_2", "last_value": 44.7, "label_value": 44.85},
      {"model": "GCAM-PR 5.3", "label": "GCAM-PR 5.3|PR_CP_CarbonPrice_1", "last_value": 43.1, "label_value": 43.73},
      {"model": "GCAM-PR 5.3", "label": "GCAM-PR 5.3|PR_CP_CarbonPriceOnly", "last_value": 42.5, "label_value": 42.61},
      {"model": "GEMINI-E3 7.0 ", "label": "GEMINI-E3 7.0 |PR_CP_CarbonPrice_0", "last_value": 40.9, "label_value": 41.43},
      {"model": "GEMINI-E3 7.0 ", "label": "GEMINI-E3 7.0 |PR_CP_CarbonPriceOnly", "last_value": 40.9, "label_value": 40.31},
      {"model": "GEMINI-E3 7.0 ", "label": "GEMINI-E3 7.0 |PR_CP_CarbonPrice_1", "last_value": 40.0, "label_value": 39.19},
      {"model": "GEMINI-E3 7.0 ", "label": "GEMINI-E3 7.0 |PR_NDC_CarbonPrice_1", "last_value": 37.8, "label_value": 38.0},
      {"model": "42", "label": "42|PR_CP_EmIntensity_1", "last_value": 36.0, "label_value": 36.89},
      {"model": "GEMINI-E3 7.0 ", "label": "GEMINI-E3 7.0 |PR_CP_EmIntensity_1", "last_value": 35.3, "label_value": 35.77},
      {"model": "GCAM-PR 5.3", "label": "GCAM-PR 5.3|PR_NDC_CarbonPrice_2", "last_value": 35.17, "label_value": 34.65},
      {"model": "GCAM-PR 5.3", "label": "GCAM-PR 5.3|PR_NDC_CarbonPrice_1", "last_value": 34.8, "label_value": 33.47},
      {"model": "GCAM-PR 5.3", "label": "GCAM-PR 5.3|PR_NDC_CarbonPriceOnly", "last_value": 33.6, "label_value": 32.29},
      {"model": "GEMINI-E3 7.0 ", "label": "GEMINI-E3 7.0 |PR_NDC_EmIntensity_1", "last_value": 30.8, "label_value": 30.67},
      {"model": "TIAM_Grantham 3.2", "label": "TIAM_Grantham 3.2|PR_CP_CarbonPrice_1", "last_value": 27.0, "label_value": 26.87},
      {"model": "42", "label": "42|PR_NDC_EmIntensity_1", "last_value": 25.8, "label_value": 25.69},
      {"model": "TIAM_Grantham 3.2", "label": "TIAM_Grantham 3.2|PR_NDC_CarbonPrice_1", "last_value": 24.6, "label_value": 24.51},
      {"model": "GCAM-PR 5.3", "label": "GCAM-PR 5.3|PR_CP_EmIntensity_1", "last_value": 22.5, "label_value": 22.4},
      {"model": "TIAM_Grantham 3.2", "label": "TIAM_Grantham 3.2|PR_CP_EmIntensity_1", "last_value": 18.05, "label_value": 17.92},
      {"model": "TIAM_Grantham 3.2", "label": "TIAM_Grantham 3.2|PR_NDC_EmIntensity_1", "last_value": 16.2, "label_value": 16.05},
      {"model": "GCAM-PR 5.3", "label": "GCAM-PR 5.3|PR_NDC_EmIntensity_1", "last_value": 15.0, "label_value": 14.87}
    ],
    "annotations": [
      {"text": "CO", "year": 1988.5, "value": 37.7, "size": "big"},
      {"text": "2", "year": 1995.6, "value": 36.55, "size": "small"}
    ]
  },
  "layer": [
    {
      "data": {"name": "scenarios"},
      "mark": {"type": "line", "strokeWidth": 1.3, "opacity": 0.9},
      "encoding": {
        "x": {"field": "year", "type": "quantitative", "scale": {"domain": [1970, 2103.3], "nice": false, "zero": false},
              "axis": {"values": [1980, 2000, 2020, 2040, 2060, 2080, 2100], "format": "d", "grid": false, "domain": false, "ticks": false, "labelPadding": 2}},
        "y": {"field": "value", "type": "quantitative", "scale": {"domain": [-1.74, 44.8], "nice": false, "zero": false},
              "axis": {"values": [0, 10, 20, 30, 40], "grid": true, "gridColor": "#ececec", "gridWidth": 1.2, "domain": true, "domainColor": "#a0a0a0", "domainWidth": 1.5, "tickColor": "#a0a0a0", "tickSize": 9, "tickWidth": 1.2, "labelPadding": 12}},
        "color": {"field": "model", "type": "nominal",
                  "scale": {"domain": ["42", "GCAM-PR 5.3", "GEMINI-E3 7.0 ", "TIAM_Grantham 3.2"], "range": ["#66c2a5", "#fc8d62", "#8da0cb", "#e78ac3"]},
                  "legend": null},
        "detail": [{"field": "model"}, {"field": "scenario"}],
        "order": {"field": "year", "type": "quantitative"}
      }
    },
    {
      "data": {"name": "labels"},
      "mark": {"type": "rule", "strokeWidth": 1.2, "opacity": 0.9},
      "encoding": {
        "x": {"datum": 2100.3, "type": "quantitative"},
        "x2": {"datum": 2103.1},
        "y": {"field": "last_value", "type": "quantitative"},
        "y2": {"field": "label_value"},
        "color": {"field": "model", "type": "nominal"}
      }
    },
    {
      "data": {"name": "labels"},
      "mark": {"type": "text", "align": "left", "baseline": "middle", "font": "Liberation Sans", "fontSize": 19.5, "dx": 3},
      "encoding": {
        "x": {"datum": 2103.3, "type": "quantitative"},
        "y": {"field": "label_value", "type": "quantitative"},
        "text": {"field": "label"},
        "color": {"field": "model", "type": "nominal"}
      }
    },
    {
      "data": {"name": "history"},
      "mark": {"type": "line", "color": "black", "strokeWidth": 9.5, "strokeCap": "round", "strokeJoin": "round"},
      "encoding": {
        "x": {"field": "year", "type": "quantitative"},
        "y": {"field": "value", "type": "quantitative"}
      }
    },
    {
      "data": {"name": "history"},
      "mark": {"type": "circle", "color": "white", "opacity": 1, "size": 20},
      "encoding": {
        "x": {"field": "year", "type": "quantitative"},
        "y": {"field": "value", "type": "quantitative"}
      }
    },
    {
      "data": {"name": "history"},
      "transform": [{"filter": "datum.year % 10 == 0"}],
      "mark": {"type": "point", "shape": "circle", "filled": true, "fill": "white", "stroke": "black", "strokeWidth": 1, "opacity": 1, "size": 220},
      "encoding": {
        "x": {"field": "year", "type": "quantitative"},
        "y": {"field": "value", "type": "quantitative"}
      }
    },
    {
      "data": {"name": "annotations"},
      "transform": [{"filter": "datum.size == 'big'"}],
      "mark": {"type": "text", "align": "left", "baseline": "middle", "font": "Liberation Sans", "fontSize": 36, "color": "#808080"},
      "encoding": {
        "x": {"field": "year", "type": "quantitative"},
        "y": {"field": "value", "type": "quantitative"},
        "text": {"field": "text"}
      }
    },
    {
      "data": {"name": "annotations"},
      "transform": [{"filter": "datum.size == 'small'"}],
      "mark": {"type": "text", "align": "left", "baseline": "middle", "font": "Liberation Sans", "fontSize": 28, "color": "#808080"},
      "encoding": {
        "x": {"field": "year", "type": "quantitative"},
        "y": {"field": "value", "type": "quantitative"},
        "text": {"field": "text"}
      }
    }
  ]
}
